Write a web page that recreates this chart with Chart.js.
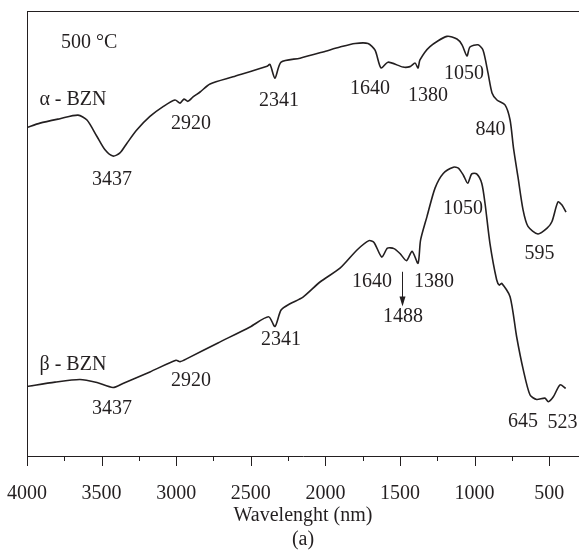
<!DOCTYPE html>
<html>
<head>
<meta charset="utf-8">
<script src="https://cdn.jsdelivr.net/npm/chart.js@4"></script>
<style>
  html, body { margin: 0; padding: 0; background: #fff; }
  #wrap { width: 579px; height: 552px; }
</style>
</head>
<body>
<div id="wrap"><canvas id="ftirChart"></canvas></div>
<script>
// alpha-BZN spectrum (wavenumber, transmittance a.u.)
const alphaWave = [4000, 3913, 3779, 3658, 3598, 3531, 3477, 3424, 3377, 3330, 3263, 3176, 3088, 3008, 2974, 2948, 2921, 2887, 2840, 2773, 2619, 2391, 2371, 2338, 2297, 2170, 2016, 1902, 1801, 1714, 1667, 1627, 1580, 1480, 1433, 1399, 1379, 1366, 1299, 1185, 1118, 1084, 1051, 1031, 977, 943, 910, 883, 850, 796, 762, 739, 709, 675, 642, 575, 514, 481, 441, 414, 387];
const alphaTrans = [73.8, 74.8, 75.8, 76.6, 75.5, 71.8, 68.8, 67.4, 68.1, 70.3, 73.3, 76.3, 78.5, 80.0, 79.3, 80.2, 79.7, 80.7, 81.8, 83.6, 85.2, 87.6, 88.0, 84.9, 88.5, 89.4, 90.8, 91.9, 92.7, 92.7, 91.2, 87.2, 88.5, 87.4, 87.5, 88.3, 87.2, 89.0, 92.0, 94.3, 93.7, 92.4, 89.9, 91.9, 92.4, 91.2, 86.1, 81.6, 80.0, 78.9, 75.5, 69.2, 62.7, 55.3, 51.6, 49.9, 51.2, 52.7, 57.1, 56.4, 54.8];

// beta-BZN spectrum
const betaWave = [4000, 3812, 3645, 3531, 3424, 3357, 3176, 3001, 2974, 2921, 2720, 2505, 2381, 2338, 2297, 2237, 2150, 2036, 1902, 1788, 1708, 1674, 1622, 1584, 1540, 1500, 1456, 1419, 1379, 1362, 1319, 1265, 1210, 1142, 1109, 1075, 1046, 1019, 986, 952, 930, 897, 852, 834, 818, 762, 718, 673, 628, 584, 528, 506, 472, 427, 389];
const betaTrans = [15.6, 16.6, 17.2, 16.5, 15.4, 16.3, 18.9, 21.5, 21.2, 22.0, 25.4, 29.0, 31.3, 29.1, 32.8, 34.2, 35.7, 39.1, 42.2, 46.3, 48.4, 48.0, 44.7, 46.7, 46.6, 45.5, 43.9, 46.0, 43.3, 48.5, 53.8, 60.2, 63.5, 64.9, 64.7, 63.1, 61.3, 63.4, 63.4, 61.3, 56.8, 47.8, 39.6, 38.4, 38.8, 35.8, 26.8, 19.3, 13.7, 12.7, 13.0, 12.2, 13.3, 16.0, 15.2];

// x axis ticks (labelled every 500)
const xTicks = [4000, 3750, 3500, 3250, 3000, 2750, 2500, 2250, 2000, 1750, 1500, 1250, 1000, 750, 500];

// band labels placed in data coordinates
const noteText = ['500 °C', 'α - BZN', '3437', '2920', '2341', '1640', '1380', '1050', '840', '595',
                  'β - BZN', '3437', '2920', '2341', '1640', '1380', '1488', '1050', '645', '523'];
const noteX = [3584, 3692, 3430, 2901, 2311, 1701, 1312, 1071, 893, 565,
               3692, 3430, 2901, 2297, 1687, 1272, 1480, 1078, 675, 411];
const noteY = [92.8, 80.0, 62.0, 74.6, 79.8, 82.5, 80.9, 85.8, 73.3, 45.4,
               20.4, 10.6, 16.9, 26.1, 39.1, 39.1, 31.2, 55.5, 7.6, 7.4];

// arrow pointing at the 1488 band
const arrowX = 1484;
const arrowFrom = 41.4;
const arrowTo = 33.6;

const ink = '#231f20';
const serif = '"Liberation Serif", "Times New Roman", serif';

const toPoints = (xs, ys) => xs.map((x, i) => ({ x: x, y: ys[i] }));

const decorations = {
  id: 'decorations',
  afterDatasetsDraw(chart) {
    const { ctx, chartArea, scales } = chart;
    const xs = scales.x, ys = scales.y;
    ctx.save();
    ctx.strokeStyle = ink;
    ctx.fillStyle = ink;
    ctx.lineWidth = 1;

    // top frame line
    ctx.beginPath();
    ctx.moveTo(chartArea.left, chartArea.top + 0.5);
    ctx.lineTo(chartArea.right, chartArea.top + 0.5);
    ctx.stroke();

    // outward tick marks, long on the labelled ones
    xTicks.forEach(v => {
      const px = Math.round(xs.getPixelForValue(v)) + 0.5;
      const len = v % 500 === 0 ? 10 : 5;
      ctx.beginPath();
      ctx.moveTo(px, chartArea.bottom);
      ctx.lineTo(px, chartArea.bottom + len);
      ctx.stroke();
    });

    // band labels
    ctx.font = '20px ' + serif;
    ctx.textAlign = 'center';
    ctx.textBaseline = 'middle';
    noteText.forEach((t, i) => {
      ctx.fillText(t, xs.getPixelForValue(noteX[i]), ys.getPixelForValue(noteY[i]));
    });

    // arrow
    const ax = Math.round(xs.getPixelForValue(arrowX)) + 0.5;
    const y0 = ys.getPixelForValue(arrowFrom);
    const y1 = ys.getPixelForValue(arrowTo);
    ctx.beginPath();
    ctx.moveTo(ax, y0);
    ctx.lineTo(ax, y1 - 8);
    ctx.stroke();
    ctx.beginPath();
    ctx.moveTo(ax - 3, y1 - 10);
    ctx.lineTo(ax + 3, y1 - 10);
    ctx.lineTo(ax, y1);
    ctx.closePath();
    ctx.fill();
    ctx.restore();
  }
};

const lineStyle = {
  borderColor: ink,
  borderWidth: 1.6,
  pointRadius: 0,
  tension: 0.25,
  fill: false
};

new Chart(document.getElementById('ftirChart'), {
  type: 'line',
  data: {
    datasets: [
      Object.assign({ label: 'α - BZN', data: toPoints(alphaWave, alphaTrans) }, lineStyle),
      Object.assign({ label: 'β - BZN', data: toPoints(betaWave, betaTrans) }, lineStyle)
    ]
  },
  options: {
    responsive: true,
    maintainAspectRatio: false,
    animation: false,
    layout: { padding: { top: 11, left: 27, right: 0, bottom: 0 } },
    plugins: {
      legend: { display: false },
      tooltip: { enabled: false },
      title: {
        display: true,
        position: 'bottom',
        text: '(a)',
        color: ink,
        font: { family: serif, size: 20, weight: 'normal', lineHeight: 1.2 },
        padding: { top: 0, bottom: 0 }
      }
    },
    scales: {
      x: {
        type: 'linear',
        reverse: true,
        min: 300,
        max: 4000,
        afterBuildTicks: (scale) => {
          scale.ticks = xTicks.map(v => ({ value: v }));
        },
        afterFit: (scale) => {
          scale.height = 72;
          scale.paddingLeft = 0;
          scale.paddingRight = 0;
        },
        grid: { display: false, drawTicks: false },
        border: { display: true, color: ink, width: 1 },
        ticks: {
          autoSkip: false,
          maxRotation: 0,
          padding: 26,
          color: ink,
          font: { family: serif, size: 20 },
          callback: (v) => (v % 500 === 0 ? String(v) : '')
        },
        title: {
          display: true,
          text: 'Wavelenght (nm)',
          color: ink,
          font: { family: serif, size: 20 },
          padding: { top: 0, bottom: 0 }
        }
      },
      y: {
        min: 0,
        max: 100,
        afterFit: (scale) => { scale.width = 0; },
        grid: { display: false, drawTicks: false },
        border: { display: true, color: ink, width: 1 },
        ticks: { display: false }
      }
    }
  },
  plugins: [decorations]
});
</script>
</body>
</html>
